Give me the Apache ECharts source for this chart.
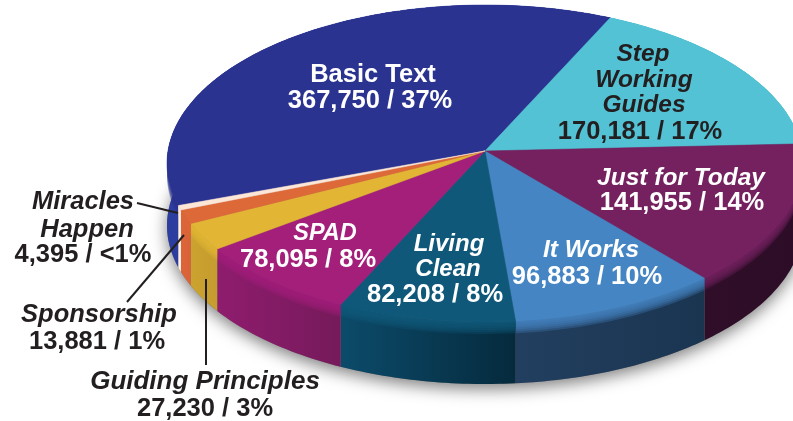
<!DOCTYPE html>
<html>
<head>
<meta charset="utf-8">
<style>
  html, body { margin: 0; padding: 0; background: #fff; }
  #chart { width: 793px; height: 421px; }
</style>
</head>
<body>
<div id="chart"></div>
<script src="https://cdn.jsdelivr.net/npm/echarts@6/dist/echarts.min.js"></script>
<script>
// data, clockwise from Basic Text
const titles = ['Basic Text', 'Step\nWorking\nGuides', 'Just for Today', 'It Works', 'Living\nClean', 'SPAD', 'Guiding Principles', 'Sponsorship', 'Miracles\nHappen']
const copies = [367750, 170181, 141955, 96883, 82208, 78095, 27230, 13881, 4395]
const shareLabels = ['37%', '17%', '14%', '10%', '8%', '8%', '3%', '1%', '<1%']

// look of each slice: face colour, wall gradient left / right
const faceColors = ['#2B3390', '#52C2D4', '#752160', '#4585C3', '#10587A', '#A31F7A', '#E2B535', '#DD6838', '#FBE6D8']
const wallLeft = ['#2C3DA0', '#2E8FA0', '#300E29', '#233F60', '#0C4B6A', '#8F1C6E', '#CCA32F', '#DC6538', '#FFF3EA']
const wallRight = ['#2A3690', '#2E8FA0', '#2C0C26', '#1A3550', '#052A3D', '#761A5B', '#C59C2E', '#D9623A', '#FFF3EA']

// where the labels go: title lines then value line, [centre x, centre y]
const titleSpots = [[[373, 73]], [[643, 52], [644, 78], [644, 103]], [[681, 176]], [[591, 248]], [[449, 242], [448, 267]], [[325, 232]], [[205, 380]], [[99, 313]], [[83, 200], [87, 228]]]
const valueSpots = [[370, 99], [640, 130], [682, 201], [587, 275], [435, 293], [308, 258], [205, 407], [97, 340], [83, 253]]
const titleSizes = [25.5, 24.5, 24.5, 24.5, 24, 23.5, 26, 25.5, 25.5]
const darkLabels = [false, true, false, false, false, false, true, true, true]
const leaders = [[[137, 203], [178, 213]], [[127, 302], [184, 235]], [[206, 365], [206, 279]]]

// pie seen in perspective
const hub = [485, 151]
const radiusX = 317
const radiusY = 157.5
const tilt = 0.079
const wallDepth = 62
const firstAngle = -109.7

const total = copies.reduce((a, b) => a + b, 0)
const edges = [firstAngle]
copies.forEach((v, i) => edges.push(edges[i] + v / total * 360))

function project(deg, drop) {
  const t = deg * Math.PI / 180
  const u = Math.sin(t)
  const v = -Math.cos(t)
  const d = 1 - tilt * v
  return [hub[0] + radiusX * u / d, hub[1] + radiusY * v / d + (drop || 0)]
}

function arc(from, to, drop) {
  const pts = []
  const steps = Math.max(2, Math.ceil(Math.abs(to - from)))
  for (let i = 0; i <= steps; i++) {
    pts.push(project(from + (to - from) * i / steps, drop))
  }
  return pts
}

function renderFace(params, api) {
  const i = params.dataIndex
  const color = faceColors[i]
  const angle = api.value(0) / total * 360
  return {
    type: 'polygon',
    shape: { points: [hub].concat(arc(edges[i], edges[i] + angle)) },
    style: { fill: color, stroke: color, lineWidth: 0.5 }
  }
}

function renderWall(params, api) {
  const i = params.dataIndex
  const angle = api.value(0) / total * 360
  const from = edges[i]
  const to = from + angle
  const rim = arc(from, to)
  const children = [{
    type: 'polygon',
    shape: { points: rim.concat(arc(to, from, wallDepth)) },
    style: {
      fill: new echarts.graphic.LinearGradient(0, 0, 1, 0, [
        { offset: 0, color: wallLeft[i] },
        { offset: 1, color: wallRight[i] }
      ])
    }
  }]
  // rounded rim, the face colour fades out over the wall
  for (let d = 2; d <= 12; d += 2) {
    children.push({
      type: 'polygon',
      shape: { points: rim.concat(arc(to, from, d)) },
      style: { fill: faceColors[i], opacity: 0.3 }
    })
  }
  return { type: 'group', children: children }
}

function renderShadow() {
  return {
    type: 'polygon',
    shape: { points: arc(0, 360, wallDepth) },
    style: {
      fill: '#777',
      shadowBlur: 16,
      shadowColor: 'rgba(0, 0, 0, 0.5)',
      shadowOffsetY: 5
    }
  }
}

function textEl(str, spot, dark, italic, size) {
  return {
    type: 'text',
    z: 100,
    x: spot[0],
    y: spot[1] + 2, // glyphs sit a bit high with middle alignment
    silent: true,
    style: {
      text: str,
      fill: dark ? '#231F20' : '#FFFFFF',
      font: (italic ? 'italic ' : '') + 'bold ' + size + 'px "Liberation Sans", Arial, sans-serif',
      textAlign: 'center',
      textVerticalAlign: 'middle'
    }
  }
}

const labelEls = []
titles.forEach((title, i) => {
  title.split('\n').forEach((line, j) => {
    labelEls.push(textEl(line, titleSpots[i][j], darkLabels[i], i !== 0, titleSizes[i]))
  })
  const valueText = copies[i].toLocaleString('en-US') + ' / ' + shareLabels[i]
  labelEls.push(textEl(valueText, valueSpots[i], darkLabels[i], false, 25.5))
})
const leaderEls = leaders.map(pts => ({
  type: 'line',
  z: 99,
  silent: true,
  shape: { x1: pts[0][0], y1: pts[0][1], x2: pts[1][0], y2: pts[1][1] },
  style: { stroke: '#231F20', lineWidth: 2 }
}))

const chart = echarts.init(document.getElementById('chart'), null, { renderer: 'canvas' })
const rows = copies.map(v => [v])
chart.setOption({
  animation: false,
  backgroundColor: '#fff',
  graphic: { z: 100, elements: leaderEls.concat(labelEls) },
  series: [
    { type: 'custom', coordinateSystem: 'none', silent: true, z: 1, data: [[total]], renderItem: renderShadow },
    { type: 'custom', coordinateSystem: 'none', silent: true, z: 2, data: rows, renderItem: renderWall },
    { type: 'custom', coordinateSystem: 'none', silent: true, z: 3, data: rows, renderItem: renderFace }
  ]
})
</script>
</body>
</html>
